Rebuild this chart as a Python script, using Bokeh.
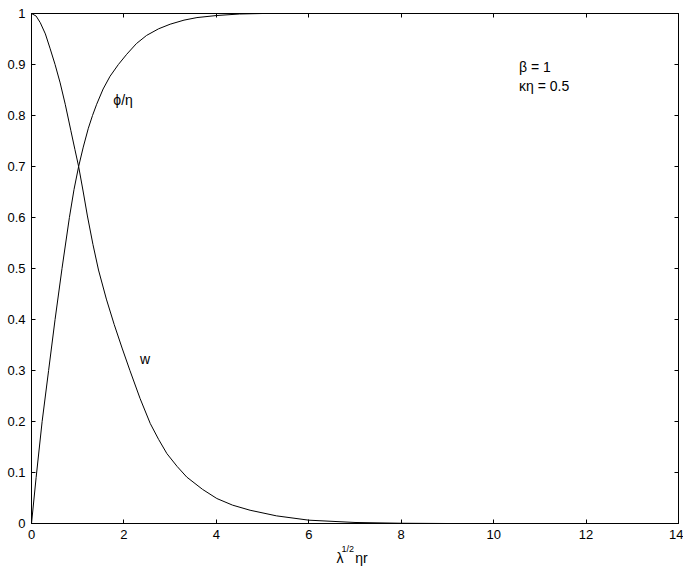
from bokeh.plotting import figure
from bokeh.models import (LinearAxis, FixedTicker, CustomJSTickFormatter, Label, Range1d, Title)
from bokeh.embed import file_html
from bokeh.resources import INLINE

# ---- data ----
phi_r = [0, 0.1, 0.23, 0.37, 0.51, 0.66, 0.82, 0.92, 1.02, 1.12, 1.23, 1.32, 1.41, 1.55, 1.70,
         1.88, 2.06, 2.27, 2.49, 2.75, 3.0, 3.3, 3.58, 4.0, 4.5, 5.0, 6.0, 8.0, 10.0, 12.0, 14.0]
phi_v = [0, 0.09, 0.20, 0.30, 0.40, 0.50, 0.60, 0.655, 0.70, 0.738, 0.775, 0.80, 0.822, 0.852,
         0.877, 0.90, 0.92, 0.941, 0.957, 0.970, 0.979, 0.987, 0.992, 0.996, 0.999, 1.0, 1.0,
         1.0, 1.0, 1.0, 1.0]

w_r = [0, 0.1, 0.19, 0.30, 0.40, 0.51, 0.62, 0.73, 0.85, 0.94, 1.02, 1.12, 1.21, 1.33, 1.45,
       1.62, 1.79, 1.96, 2.13, 2.35, 2.57, 2.75, 2.93, 3.15, 3.36, 3.7, 4.01, 4.35, 4.73, 5.3,
       6.0, 7.0, 8.0, 9.0, 10.0, 14.0]
w_v = [1.0, 0.995, 0.982, 0.96, 0.932, 0.90, 0.864, 0.822, 0.771, 0.733, 0.70, 0.65, 0.603,
       0.547, 0.497, 0.44, 0.39, 0.344, 0.30, 0.245, 0.196, 0.165, 0.137, 0.112, 0.091, 0.067,
       0.049, 0.036, 0.026, 0.015, 0.0065, 0.002, 0.0005, 0, 0, 0]

x_ticks = [0, 2, 4, 6, 8, 10, 12, 14]
y_ticks = [0, 0.1, 0.2, 0.3, 0.4, 0.5, 0.6, 0.7, 0.8, 0.9, 1.0]

FONT = "Liberation Sans"
FS = "13px"

p = figure(frame_width=647, frame_height=510, output_backend="svg", toolbar_location=None,
           x_range=Range1d(0, 14), y_range=Range1d(0, 1),
           min_border_left=31, min_border_right=5, min_border_top=13, min_border_bottom=46,
           x_axis_location=None, y_axis_location=None)
p.grid.visible = False
p.outline_line_color = "black"
p.outline_line_width = 1
p.outline_line_alpha = 1.0
p.background_fill_color = "white"
p.border_fill_color = "white"


def make_axis(ticks, code, show_labels):
    ax = LinearAxis(ticker=FixedTicker(ticks=ticks),
                    formatter=CustomJSTickFormatter(code=code))
    ax.axis_line_color = "black"
    ax.major_tick_line_color = "black"
    ax.major_tick_in = 4
    ax.major_tick_out = 0
    ax.minor_tick_line_color = None
    ax.major_label_text_font = FONT
    ax.major_label_text_color = "black"
    ax.major_label_text_font_size = FS
    ax.major_label_standoff = 6 if show_labels else 0
    return ax


p.add_layout(make_axis(x_ticks, "return tick.toFixed(0);", True), "below")
p.add_layout(make_axis(y_ticks, "return tick.toFixed(1).replace(/\\.0$/, '');", True), "left")
p.add_layout(make_axis(x_ticks, "return '';", False), "above")
p.add_layout(make_axis(y_ticks, "return '';", False), "right")

# x-axis label  λ^{1/2} η r  as two stacked titles below the axis
t_sup = Title(text="1/2", align="left", offset=310, standoff=0, text_font=FONT,
              text_font_size="9px", text_font_style="normal", text_color="black")
t_main = Title(text="λ\u00a0\u00a0\u00a0ηr", align="left", offset=305, standoff=-12, text_font=FONT,
               text_font_size="14px", text_font_style="normal", text_color="black")
p.add_layout(t_sup, "below")
p.add_layout(t_main, "below")

p.line(phi_r, phi_v, line_color="black", line_width=1)
p.line(w_r, w_v, line_color="black", line_width=1)

lab_kw = dict(text_font=FONT, text_font_size="14px", text_color="black")
p.add_layout(Label(x=1.77, y=0.815, text="ϕ/η", **lab_kw))
p.add_layout(Label(x=2.35, y=0.307, text="w", **lab_kw))
p.add_layout(Label(x=10.55, y=0.879, text="β = 1", **lab_kw))
p.add_layout(Label(x=10.55, y=0.843, text="κη = 0.5", **lab_kw))

open("out.html", "w").write(file_html(p, INLINE))
